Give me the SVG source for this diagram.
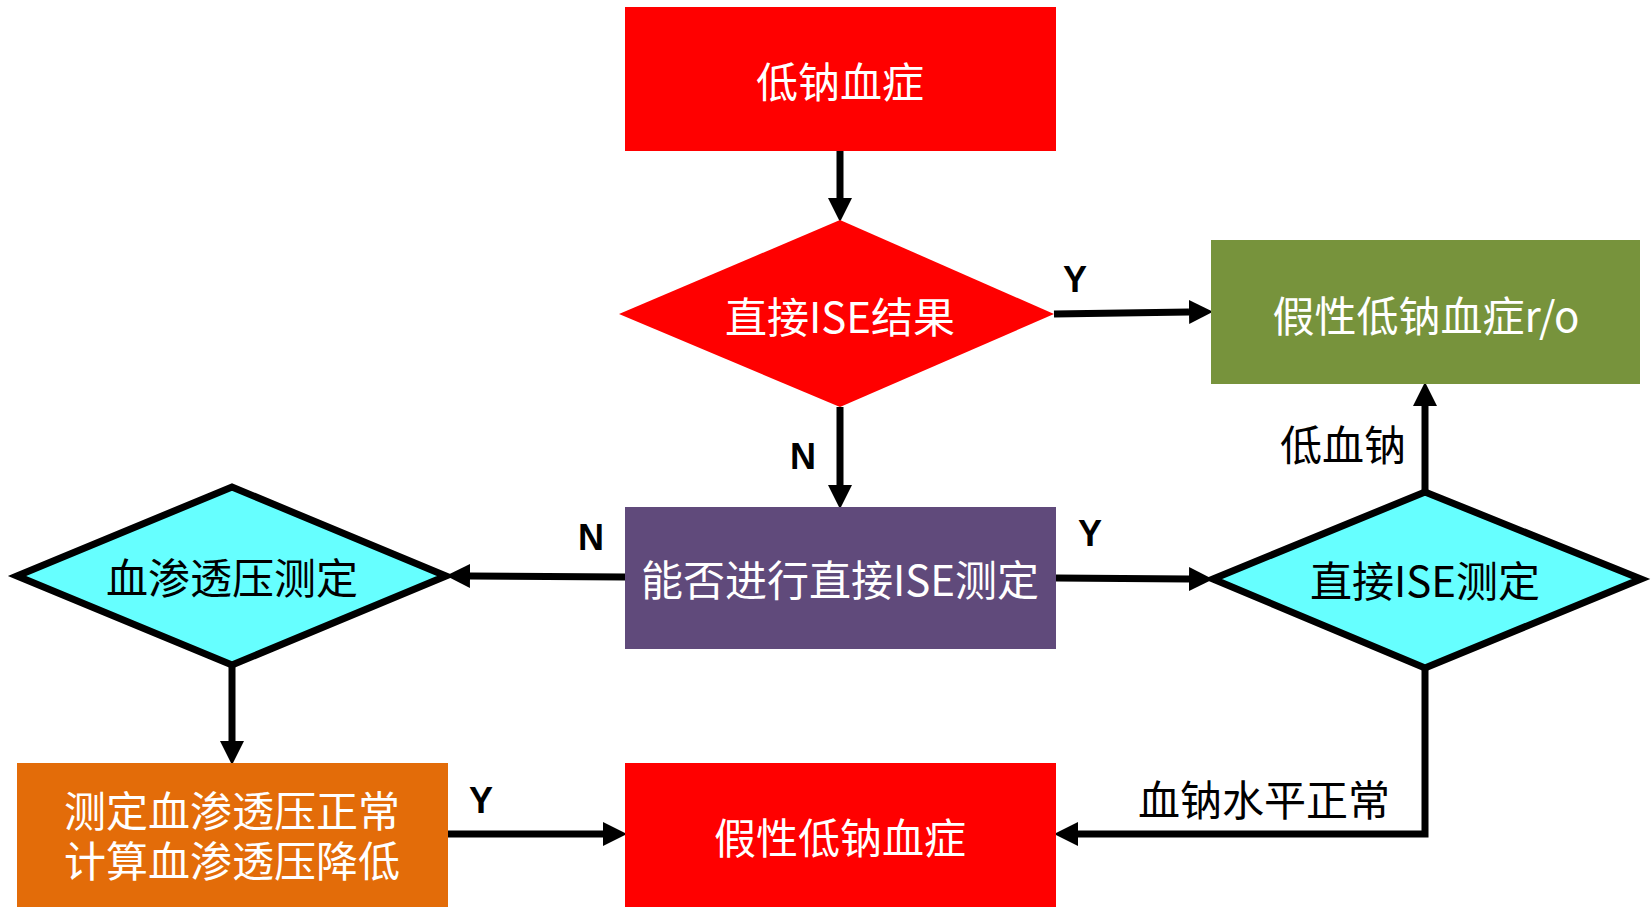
<svg xmlns="http://www.w3.org/2000/svg" width="1652" height="907" viewBox="0 0 1652 907">
<defs>
<style>
.t{font-family:"Noto Sans CJK SC","Noto Sans",sans-serif;font-size:42px;text-anchor:middle;dominant-baseline:central}
.w{fill:#ffffff}
.k{fill:#000000}
.yn{font-family:"Liberation Sans",Arial,sans-serif;font-weight:bold;font-size:36px;text-anchor:middle;fill:#000}
.dm{fill:#66FFFF;stroke:#000;stroke-width:7;stroke-linejoin:miter}
.c{fill:none;stroke:#000;stroke-width:7;marker-end:url(#ah)}
</style>
<marker id="ah" markerUnits="userSpaceOnUse" markerWidth="24" markerHeight="24" viewBox="0 0 24 24" refX="0" refY="12" orient="auto">
<path d="M0,0 L24,12 L0,24 Z" fill="#000"/>
</marker>
</defs>
<rect width="1652" height="907" fill="#ffffff"/>

<g id="connectors">
<path class="c" d="M840,151 V198"/>
<path class="c" d="M1054,314 L1189,312"/>
<path class="c" d="M840,407 V485"/>
<path class="c" d="M625,577 L470,576"/>
<path class="c" d="M1056,578 L1189,579"/>
<path class="c" d="M1425,490 V406"/>
<path class="c" d="M232,666 V741"/>
<path class="c" d="M448,834 H603"/>
<path class="c" d="M1425,670 V834 H1078"/>
<text class="yn" x="1075" y="292">Y</text>
<text class="yn" x="803" y="469">N</text>
<text class="yn" x="591" y="550">N</text>
<text class="yn" x="1090" y="546">Y</text>
<text class="yn" x="481" y="813">Y</text>
<text class="t k" x="1343" y="442">低血钠</text>
<text class="t k" x="1264" y="797">血钠水平正常</text>
</g>

<g id="n1">
<rect x="625" y="7" width="431" height="144" fill="#FF0000"/>
<text class="t w" x="840" y="79">低钠血症</text>
</g>

<g id="n2">
<polygon points="619,314 840,220 1054,314 840,407" fill="#FF0000"/>
<text class="t w" x="840" y="314">直接ISE结果</text>
</g>

<g id="n3">
<rect x="1211" y="240" width="429" height="144" fill="#77933C"/>
<text class="t w" x="1426" y="313">假性低钠血症r/o</text>
</g>

<g id="n4">
<rect x="625" y="507" width="431" height="142" fill="#604A7B"/>
<text class="t w" x="840" y="577">能否进行直接ISE测定</text>
</g>

<g id="n5">
<polygon class="dm" points="17,576 232,487 446,576 232,665"/>
<text class="t k" x="232" y="575">血渗透压测定</text>
</g>

<g id="n6">
<polygon class="dm" points="1213,579 1425,492 1641,579 1425,668"/>
<text class="t k" x="1425" y="578">直接ISE测定</text>
</g>

<g id="n7">
<rect x="17" y="763" width="431" height="144" fill="#E36C09"/>
<text class="t w" x="232" y="808">测定血渗透压正常</text>
<text class="t w" x="232" y="858">计算血渗透压降低</text>
</g>

<g id="n8">
<rect x="625" y="763" width="431" height="144" fill="#FF0000"/>
<text class="t w" x="840" y="835">假性低钠血症</text>
</g>
</svg>
